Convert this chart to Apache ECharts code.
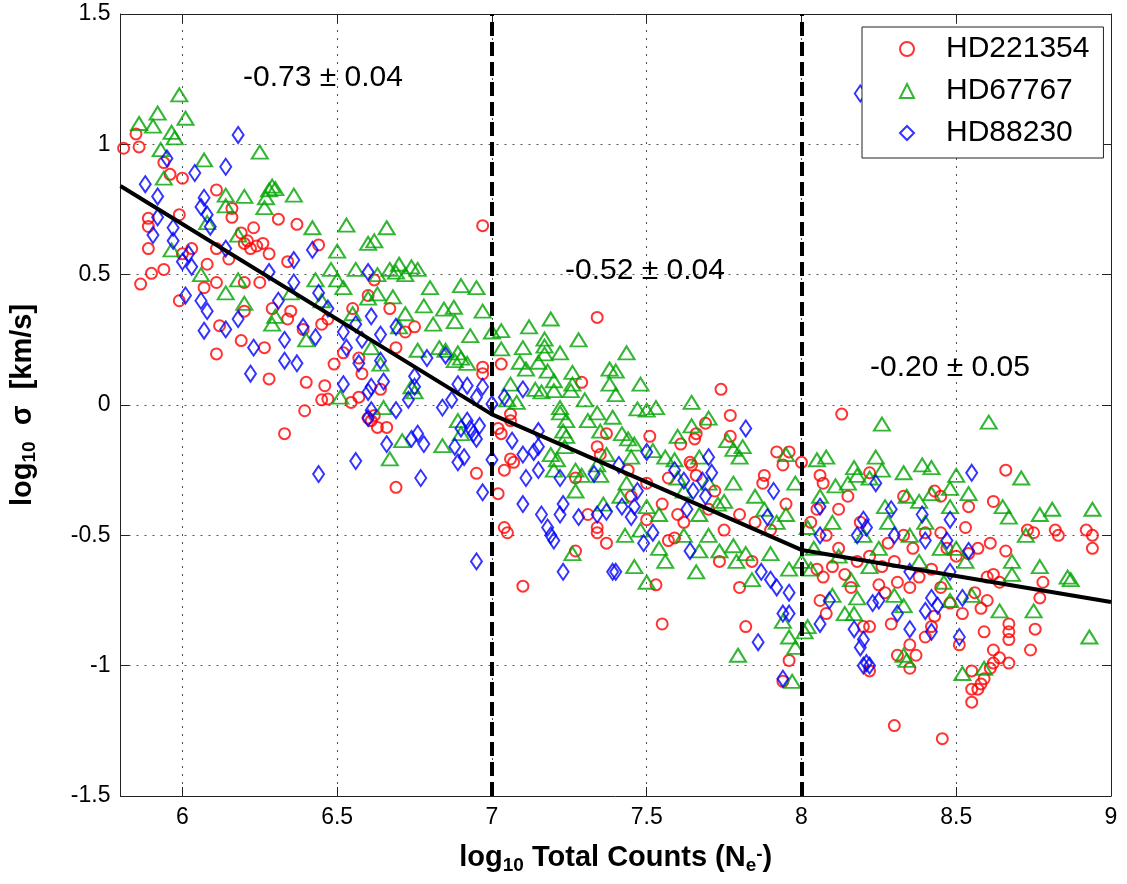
<!DOCTYPE html>
<html><head><meta charset="utf-8">
<script src="https://cdn.jsdelivr.net/npm/echarts@6/dist/echarts.min.js"></script>
<style>html,body{margin:0;padding:0;background:#fff}#c{width:1127px;height:884px}</style>
</head><body><div id="c"></div>
<script>
const xTicks = [6, 6.5, 7, 7.5, 8, 8.5, 9];
const seriesNames = ['HD221354', 'HD67767', 'HD88230'];
const slopeLabels = ['-0.73 \u00b1 0.04', '-0.52 \u00b1 0.04', '-0.20 \u00b1 0.05'];
const breakpoints = [7, 8];
const fitLine = [[5.8, 0.84], [7, -0.036], [8, -0.556], [9, -0.756]];

const hd221354 = [
[5.81,0.985],[5.85,1.04],[5.86,0.99],[5.94,0.93],[5.96,0.885],[6.0,0.87],[6.11,0.825],[5.99,0.73],[5.89,0.716],[5.89,0.685],
[6.16,0.754],[6.16,0.72],[6.31,0.713],[6.37,0.693],[6.19,0.66],[6.21,0.63],[6.24,0.61],[6.22,0.6],[6.2,0.62],[6.26,0.62],
[6.23,0.68],[5.89,0.60],[6.03,0.60],[6.11,0.60],[6.28,0.58],[6.44,0.614],[6.34,0.55],[5.94,0.52],[6.0,0.58],[6.08,0.54],[6.15,0.56],
[5.865,0.464],[5.9,0.505],[5.99,0.40],[6.07,0.45],[6.11,0.47],[6.2,0.47],[6.25,0.47],[6.12,0.304],[6.19,0.247],[6.11,0.196],
[6.265,0.22],[6.28,0.10],[6.2,0.36],[6.29,0.37],[6.35,0.36],[6.34,0.33],[6.40,0.087],[6.395,-0.022],[6.33,-0.11],[6.46,0.074],
[6.47,0.023],[6.45,0.02],[6.49,0.157],[6.52,0.2],[6.545,0.01],[6.57,0.03],[6.55,0.37],[6.57,0.18],[6.58,0.12],[6.6,-0.05],
[6.6,0.42],[6.39,0.29],[6.45,0.31],[6.47,0.33],
[6.62,0.48],[6.67,0.37],[6.75,0.30],[6.72,0.28],[6.69,0.22],[6.64,0.06],[6.63,-0.086],[6.66,-0.086],[6.61,-0.06],[6.62,-0.04],
[6.69,-0.316],[6.95,-0.262],[6.97,0.145],[7.03,0.157],[6.97,0.12],[7.34,0.336],[7.29,0.087],[7.06,-0.035],[7.06,-0.06],[7.03,-0.11],
[7.02,-0.09],[7.06,-0.207],[7.07,-0.22],[7.04,-0.25],[7.02,-0.34],[7.04,-0.47],[7.34,-0.16],[7.37,-0.11],[7.35,-0.19],[7.31,-0.42],
[7.34,-0.47],[7.27,-0.28],[6.97,0.688],
[7.74,0.06],[7.77,-0.04],[7.69,-0.07],[7.66,-0.11],[7.655,-0.13],[7.61,-0.15],[7.51,-0.12],[7.77,-0.12],[7.64,-0.22],[7.645,-0.23],
[7.57,-0.28],[7.66,-0.27],[7.72,-0.33],[7.88,-0.27],[7.875,-0.3],[7.92,-0.18],[7.94,-0.23],[7.96,-0.18],[8.0,-0.22],[8.06,-0.27],
[8.07,-0.3],[7.95,-0.38],[8.12,-0.4],[8.13,-0.035],[7.75,-0.48],[7.5,-0.44],[7.62,-0.45],
[7.45,-0.35],[7.55,-0.38],[7.6,-0.42],[7.7,-0.4],[7.8,-0.42],[7.85,-0.45],[7.9,-0.48],[7.44,-0.25],[7.5,-0.3],
[8.66,-0.25],[8.62,-0.37],[8.54,-0.39],[8.43,-0.33],[8.45,-0.35],[8.33,-0.35],[8.22,-0.26],[8.82,-0.48],[8.92,-0.48],[8.73,-0.48],
[8.53,-0.47],[8.45,-0.49],[8.4,-0.49],
[7.1,-0.695],[7.27,-0.56],[7.37,-0.53],[7.05,-0.49],[7.34,-0.49],[7.735,-0.6],[7.84,-0.6],[7.53,-0.69],[7.55,-0.84],[7.8,-0.7],
[7.82,-0.85],[7.96,-0.98],[7.94,-1.06],[8.06,-0.75],[8.08,-0.8],[8.2,-0.85],[7.57,-0.52],[7.59,-0.51],[8.05,-0.63],[8.07,-0.66],
[8.1,-0.62],[8.14,-0.65],[8.16,-0.7],
[8.94,-0.55],[8.94,-0.5],[8.83,-0.5],[8.75,-0.49],[8.78,-0.68],[8.77,-0.74],[8.755,-0.86],[8.74,-0.94],[8.67,-0.84],[8.67,-0.87],
[8.67,-0.9],[8.67,-0.99],[8.64,-0.97],[8.62,-0.99],[8.61,-1.01],[8.59,-1.05],[8.58,-1.07],[8.57,-1.09],[8.55,-1.14],[8.55,-1.09],
[8.62,-0.94],[8.55,-1.02],[8.59,-0.87],[8.455,-1.28],[8.3,-1.23],[8.22,-1.02],[8.35,-1.01],[8.37,-0.96],[8.35,-0.92],[8.4,-0.89],
[8.42,-0.85],[8.43,-0.81],[8.51,-0.92],[8.31,-0.96],[8.29,-0.84],[8.22,-0.85],[8.47,-0.55],[8.5,-0.58],[8.54,-0.57],[8.57,-0.55],
[8.61,-0.53],[8.66,-0.56],[8.64,-0.68],[8.62,-0.65],[8.6,-0.66],[8.31,-0.68],[8.25,-0.69],[8.27,-0.72],
[8.03,-0.45],[8.08,-0.5],[8.12,-0.55],[8.18,-0.6],[8.22,-0.58],[8.26,-0.62],[8.3,-0.6],[8.35,-0.7],[8.38,-0.66],[8.42,-0.63],
[8.45,-0.7],[8.48,-0.76],[8.52,-0.8],[8.56,-0.72],[8.58,-0.78],[8.6,-0.75],[8.28,-0.53],[8.33,-0.5],[8.36,-0.55],[8.19,-0.45],
[8.05,-0.4],[8.15,-0.35]
];

const hd67767 = [
[5.99,1.19],[5.92,1.12],[5.86,1.08],[5.905,1.07],[6.01,1.10],[5.965,1.046],[5.975,1.025],[6.25,0.97],[5.93,0.98],[6.07,0.94],
[5.94,0.87],[6.29,0.84],[6.3,0.83],[6.28,0.825],[6.36,0.805],[6.14,0.805],[6.2,0.80],[6.27,0.795],[6.265,0.757],[6.14,0.764],
[6.42,0.68],[6.53,0.69],[6.08,0.70],[6.18,0.652],[5.965,0.595],[6.6,0.62],[6.5,0.59],[6.48,0.52],[6.56,0.52],
[6.06,0.5],[6.18,0.48],[6.14,0.43],[6.2,0.39],[6.3,0.34],[6.29,0.31],[6.40,0.25],[6.43,0.48],[6.5,0.48],[6.52,0.45],[6.51,0.03],[6.35,0.43],
[6.66,0.68],[6.62,0.63],[6.67,0.52],[6.69,0.51],[6.72,0.5],[6.63,0.5],[6.74,0.53],[6.7,0.54],[6.76,0.52],
[6.63,0.426],[6.68,0.415],[6.90,0.458],[6.845,0.368],[6.877,0.375],[6.88,0.32],[6.97,0.36],[6.81,0.31],[6.93,0.266],[7.03,0.285],
[7.19,0.33],[6.76,0.21],[6.83,0.22],[6.85,0.21],[6.89,0.2],[6.9,0.18],[6.92,0.16],[6.88,0.17],[7.09,0.164],[7.11,0.138],
[7.17,0.253],[7.17,0.226],[7.17,0.196],[7.15,0.164],[7.18,0.13],[7.2,0.093],[7.2,0.055],[7.16,0.05],[7.14,0.06],[7.26,0.125],
[7.26,0.08],[7.255,0.055],[7.38,0.138],[7.38,0.08],[6.6,0.41],[6.61,0.22],[7.03,0.215],[7.06,0.08],[7.08,0.01],[7.05,0.02],
[7.22,-0.01],[7.22,-0.03],[7.24,-0.06],[7.23,-0.1],[7.24,-0.12],[7.235,-0.16],[7.19,-0.19],[7.21,-0.21],[7.2,-0.25],[7.27,-0.25],
[7.29,-0.27],[7.34,-0.23],[7.35,-0.27],[7.37,-0.19],[7.39,-0.047],[7.34,-0.03],[7.31,-0.06],[7.35,-0.1],[7.36,-0.38],[7.27,-0.33],
[6.67,-0.207],[6.71,-0.137],[6.84,-0.156],[6.9,-0.11],[6.89,-0.06],[6.74,0.07],[6.75,0.05],[6.65,-0.01],[6.64,0.157],
[7.435,0.20],[7.4,0.13],[7.47,-0.015],[7.5,-0.02],[7.53,-0.01],[7.645,0.01],[7.645,-0.08],[7.42,-0.11],[7.44,-0.13],[7.46,-0.15],
[7.52,-0.175],[7.56,-0.2],[7.59,-0.21],[7.67,-0.2],[7.76,-0.137],[7.78,-0.17],[7.8,-0.2],[7.81,-0.16],[7.95,-0.19],[7.98,-0.3],
[8.05,-0.21],[8.08,-0.2],[8.17,-0.24],[8.18,-0.27],[8.15,-0.3],[8.11,-0.31],[8.06,-0.35],[7.78,-0.3],[7.75,-0.37],[7.73,-0.38],
[7.67,-0.42],[7.54,-0.42],[7.5,-0.39],[7.435,-0.3],[7.415,-0.35],[7.95,-0.42],
[8.26,-0.073],[8.605,-0.066],[8.24,-0.2],[8.22,-0.28],[8.26,-0.25],[8.39,-0.23],[8.42,-0.24],[8.33,-0.26],[8.5,-0.27],[8.71,-0.28],
[8.34,-0.35],[8.38,-0.37],[8.42,-0.34],[8.48,-0.32],[8.54,-0.34],[8.48,-0.39],[8.65,-0.39],[8.67,-0.43],[8.77,-0.42],[8.81,-0.4],
[8.94,-0.4],[8.27,-0.39],
[7.26,-0.57],[7.43,-0.5],[7.46,-0.62],[7.5,-0.68],[7.54,-0.55],[7.56,-0.6],[7.66,-0.64],[7.67,-0.56],[7.735,-0.56],[7.78,-0.54],
[7.79,-0.6],[7.82,-0.57],[7.84,-0.67],[7.9,-0.57],[7.96,-0.63],[8.0,-0.6],[8.03,-0.63],[7.795,-0.96],[7.94,-0.83],[7.96,-0.89],
[7.98,-0.93],[8.02,-0.85],[8.01,-0.87],[7.97,-1.06],[8.14,-0.8],[8.17,-0.8],[8.18,-0.74],[8.1,-0.73],[8.16,-0.67],
[8.93,-0.89],[8.86,-0.66],[8.87,-0.67],[8.77,-0.62],[8.75,-0.79],[8.68,-0.6],[8.68,-0.65],[8.64,-0.79],[8.59,-1.01],[8.52,-1.03],
[8.33,-0.96],[8.34,-0.98],[8.725,-0.5],[8.3,-0.73],[8.33,-0.77],[8.48,-0.75],[8.46,-0.68],[8.55,-0.73],[8.53,-0.6],[8.5,-0.55],
[7.45,-0.2],[7.6,-0.28],[7.62,-0.33],[7.7,-0.3],[7.85,-0.35],[7.88,-0.4],[7.92,-0.45],[8.02,-0.47],[8.1,-0.45],[8.2,-0.5],
[8.25,-0.55],[8.28,-0.45],[8.35,-0.5],[8.4,-0.45],[8.45,-0.55],[8.38,-0.6],[8.22,-0.62],[8.12,-0.58],[8.04,-0.55],[7.62,-0.5],
[7.7,-0.5],[7.48,-0.48],[7.6,-0.12],[7.7,-0.05],[7.4,0.04],[7.48,0.08],[7.3,0.02],[7.1,0.22],[7.22,0.2],[7.28,0.25],
[7.12,0.3],[6.95,0.45],[7.0,0.28],[6.8,0.45],[6.78,0.38],[6.72,0.35],[6.7,0.3],[6.55,0.35],[6.45,0.4]
];

const hd88230 = [
[6.18,1.036],[5.95,0.946],[6.14,0.914],[6.04,0.89],[5.88,0.847],[5.92,0.80],[6.07,0.795],[6.06,0.76],[6.08,0.73],[6.09,0.684],
[5.92,0.72],[5.97,0.68],[5.905,0.652],[5.97,0.63],[6.02,0.58],[6.0,0.55],[6.03,0.53],[6.14,0.60],[6.28,0.51],[6.36,0.556],
[6.42,0.595],[6.6,0.51],
[6.01,0.42],[6.06,0.40],[6.08,0.36],[6.07,0.285],[6.14,0.29],[6.18,0.33],[6.23,0.22],[6.22,0.12],[6.33,0.17],[6.37,0.16],
[6.33,0.25],[6.31,0.40],[6.36,0.47],[6.39,0.30],[6.43,0.26],[6.52,0.08],[6.52,0.28],[6.53,0.22],[6.56,0.31],[6.58,0.25],
[6.57,0.16],[6.6,0.05],[6.6,-0.05],[6.44,-0.265],[6.56,-0.215],[6.44,0.43],[6.47,0.37],
[6.61,0.34],[6.69,0.30],[6.64,0.27],[6.64,0.17],[6.61,0.07],[6.65,0.09],[6.75,0.11],[6.75,0.07],[6.73,0.02],[6.69,-0.02],
[6.61,-0.02],[6.79,0.18],[6.85,0.19],[6.87,0.02],[6.84,-0.01],[6.89,0.08],[6.92,0.074],[6.97,0.07],[6.95,0.03],[7.0,0.004],
[7.04,0.03],[7.1,0.06],[6.92,-0.06],[6.93,-0.09],[6.9,-0.09],[6.94,-0.11],[6.95,-0.13],[6.96,-0.08],[6.76,-0.11],[6.74,-0.13],
[6.78,-0.15],[6.66,-0.15],[6.88,-0.16],[6.89,-0.22],[6.91,-0.2],[6.77,-0.28],[6.97,-0.335],[7.0,-0.21],[7.065,-0.137],[7.1,-0.19],
[7.135,-0.18],[7.15,-0.1],[7.15,-0.16],[7.15,-0.25],[7.11,-0.28],[7.1,-0.38],[7.16,-0.42],[7.18,-0.47],[7.23,-0.38],[7.22,-0.42],
[7.28,-0.43],[7.34,-0.42],[7.37,-0.41],[7.22,-0.28],[7.33,-0.265],
[7.82,-0.09],[7.5,-0.18],[7.59,-0.25],[7.7,-0.2],[7.71,-0.26],[7.68,-0.29],[7.62,-0.29],[7.65,-0.33],[7.69,-0.35],[7.91,-0.33],
[7.63,-0.4],[7.41,-0.23],[7.42,-0.39],[7.45,-0.43],[7.47,-0.33],[7.46,-0.39],[8.06,-0.39],[7.89,-0.43],
[8.55,-0.26],[8.24,-0.3],[8.29,-0.4],[8.39,-0.42],[8.48,-0.44],[8.2,-0.44],[8.21,-0.47],
[6.95,-0.6],[7.23,-0.64],[7.39,-0.64],[7.2,-0.52],[7.19,-0.5],[7.49,-0.53],[7.52,-0.49],[7.64,-0.56],[7.4,-0.64],[7.87,-0.64],
[7.9,-0.67],[7.92,-0.7],[7.96,-0.72],[7.94,-0.8],[7.96,-0.8],[8.06,-0.84],[8.09,-0.75],[7.86,-0.91],[7.94,-1.05],[8.17,-0.86],
[8.2,-0.9],[8.19,-0.93],[8.21,-0.99],[8.22,-1.0],[8.06,-0.5],[8.18,-0.5],
[8.51,-0.89],[8.42,-0.87],[8.35,-0.86],[8.44,-0.77],[8.42,-0.74],[8.4,-0.79],[8.31,-0.8],[8.25,-0.75],[8.23,-0.76],[8.35,-0.64],
[8.4,-0.52],[8.47,-0.52],[8.54,-0.56],[8.52,-0.74],[8.48,-0.64],[8.3,-0.5],[8.2,-1.0],[8.19,1.195]
];

const FONT = '"Liberation Sans", Arial, Helvetica, sans-serif';
const chart = echarts.init(document.getElementById('c'), null, {renderer: 'canvas'});
const axisColor = '#222';
const gridLine = {show: true, lineStyle: {type: [2, 6], color: '#555', width: 1}};
function hollow(color) { return {color: 'rgba(0,0,0,0)', borderColor: color, borderWidth: 2}; }

const option = {
  animation: false,
  backgroundColor: '#fff',
  textStyle: {fontFamily: FONT},
  grid: {left: 119, right: 16, top: 14, bottom: 88, containLabel: false},
  xAxis: [{
    type: 'value', min: 5.8, max: 9, position: 'bottom',
    axisLine: {show: true, onZero: false, lineStyle: {color: axisColor, width: 1}},
    axisTick: {show: true, inside: true, length: 9, customValues: xTicks, lineStyle: {color: axisColor}},
    axisLabel: {show: true, customValues: xTicks, fontSize: 23, color: '#000', margin: 10, fontFamily: FONT},
    splitLine: gridLine,
    name: '{b|log}{s|10}{b| Total Counts (N}{s|e}{p|-}{b|)}',
    nameLocation: 'middle', nameGap: 45,
    nameTextStyle: {fontFamily: FONT, rich: {
      b: {fontSize: 29, fontWeight: 'bold', color: '#000', fontFamily: FONT},
      s: {fontSize: 19, fontWeight: 'bold', color: '#000', fontFamily: FONT, padding: [15, 0, 0, 0]},
      p: {fontSize: 19, fontWeight: 'bold', color: '#000', fontFamily: FONT, padding: [0, 0, 6, 0]}
    }}
  }, {
    type: 'value', min: 5.8, max: 9, position: 'top',
    axisLine: {show: true, onZero: false, lineStyle: {color: axisColor, width: 1}},
    axisTick: {show: true, inside: true, length: 9, customValues: xTicks, lineStyle: {color: axisColor}},
    axisLabel: {show: false}, splitLine: {show: false}
  }],
  yAxis: [{
    type: 'value', min: -1.5, max: 1.5, interval: 0.5, position: 'left',
    axisLine: {show: true, onZero: false, lineStyle: {color: axisColor, width: 1}},
    axisTick: {show: true, inside: true, length: 9, lineStyle: {color: axisColor}},
    axisLabel: {fontSize: 23, color: '#000', margin: 10, fontFamily: FONT},
    splitLine: gridLine,
    name: '{b|log}{s|10}{b|  \u03c3  [km/s]}',
    nameLocation: 'middle', nameGap: 81, nameRotate: 90,
    nameTextStyle: {fontFamily: FONT, rich: {
      b: {fontSize: 29, fontWeight: 'bold', color: '#000', fontFamily: FONT},
      s: {fontSize: 19, fontWeight: 'bold', color: '#000', fontFamily: FONT, padding: [15, 0, 0, 0]}
    }}
  }, {
    type: 'value', min: -1.5, max: 1.5, interval: 0.5, position: 'right',
    axisLine: {show: true, onZero: false, lineStyle: {color: axisColor, width: 1}},
    axisTick: {show: true, inside: true, length: 9, lineStyle: {color: axisColor}},
    axisLabel: {show: false}, splitLine: {show: false}
  }],
  legend: {
    show: true, left: 862, top: 27, orient: 'vertical',
    backgroundColor: '#fff', borderColor: '#222', borderWidth: 1, borderRadius: 0,
    padding: [7, 14, 10, 37], itemWidth: 14, itemHeight: 14, itemGap: 12,
    textStyle: {fontSize: 30, color: '#000', lineHeight: 28, padding: [0, 0, 0, 27], fontFamily: FONT},
    data: seriesNames, z: 10
  },
  graphic: [
    {type: 'text', left: 243, top: 63, z: 20, style: {text: slopeLabels[0], fontSize: 30, fill: '#000', fontFamily: FONT}},
    {type: 'text', left: 565, top: 256, z: 20, style: {text: slopeLabels[1], fontSize: 30, fill: '#000', fontFamily: FONT}},
    {type: 'text', left: 870, top: 353, z: 20, style: {text: slopeLabels[2], fontSize: 30, fill: '#000', fontFamily: FONT}}
  ],
  series: [
    {name: seriesNames[0], type: 'scatter', data: hd221354, symbol: 'circle', symbolSize: 11,
     itemStyle: hollow('#ff0000'), silent: true, z: 2},
    {name: seriesNames[1], type: 'scatter', data: hd67767, symbol: 'triangle', symbolSize: [16, 13],
     itemStyle: hollow('#00a400'), silent: true, z: 2},
    {name: seriesNames[2], type: 'scatter', data: hd88230, symbol: 'diamond', symbolSize: [11, 16],
     itemStyle: hollow('#0000ff'), silent: true, z: 2},
    {name: 'fit', type: 'line', data: fitLine, symbol: 'none', silent: true, z: 5,
     lineStyle: {color: '#000', width: 4},
     markLine: {silent: true, symbol: 'none', label: {show: false},
       lineStyle: {type: [14, 6], width: 4, color: '#000'},
       data: breakpoints.map(v => ({xAxis: v}))}}
  ]
};
chart.setOption(option);
</script>
</body></html>
